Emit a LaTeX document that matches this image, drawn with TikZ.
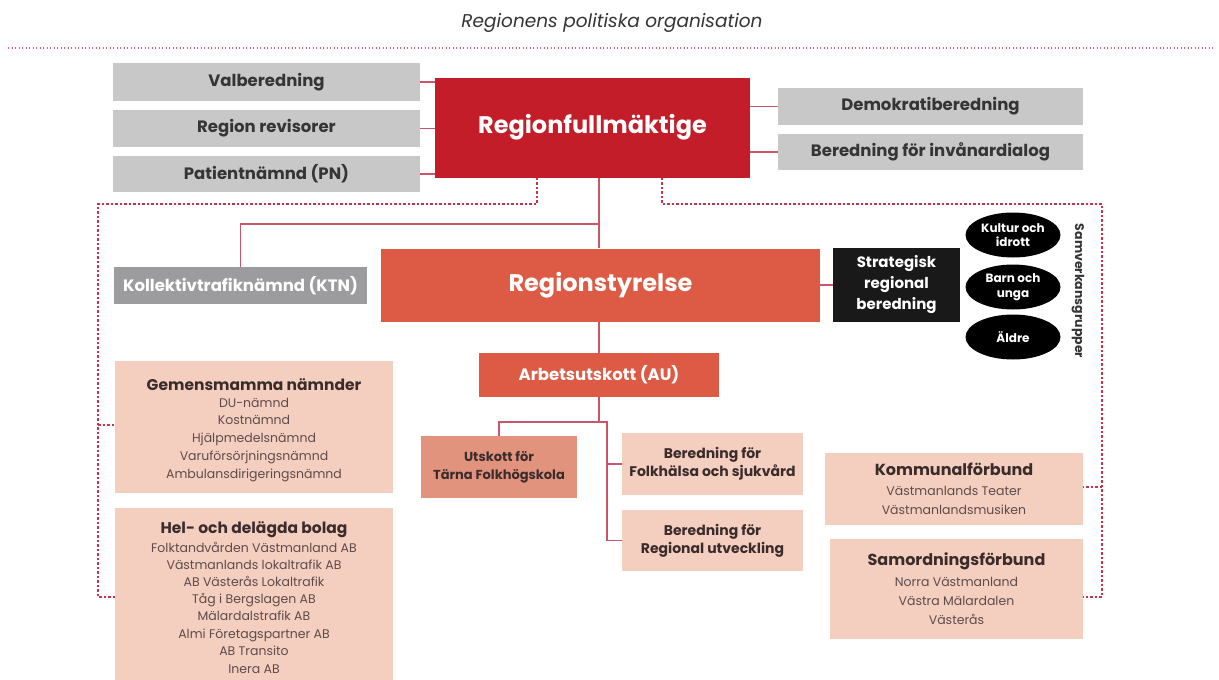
\documentclass[tikz,border=0pt]{standalone}
\usepackage{fontspec}
\setmainfont{Poppins}
\usetikzlibrary{shapes.geometric,calc}
\definecolor{rfred}{HTML}{C21D28}
\definecolor{rsred}{HTML}{DD5B45}
\definecolor{lgray}{HTML}{C8C8C9}
\definecolor{dgray}{HTML}{9C9C9E}
\definecolor{salmon}{HTML}{F4CEBF}
\definecolor{dsalmon}{HTML}{E2937D}
\definecolor{conn}{HTML}{C9566A}
\definecolor{dash}{HTML}{C8334A}
\definecolor{txtd}{HTML}{353535}
\definecolor{txtb}{HTML}{3B2C2C}
\definecolor{txtl}{HTML}{5E4C4C}
\tikzset{
  bx/.style={rectangle, inner sep=0pt, align=center, font=\bfseries},
  graybox/.style={bx, fill=lgray, text=txtd, minimum width=307pt, font=\fontsize{16.5}{18}\selectfont\bfseries},
  rightbox/.style={bx, fill=lgray, text=txtd, minimum width=305pt, font=\fontsize{16.5}{18}\selectfont\bfseries},
  salbox/.style={bx, fill=salmon, text=txtb, font=\fontsize{14}{18}\selectfont\bfseries},
  listbox/.style={rectangle, inner sep=0pt, fill=salmon},
  ltitle/.style={text=txtb, font=\fontsize{15.5}{18}\selectfont\bfseries, inner sep=0pt, text height=11pt, text depth=3.5pt},
  litem/.style={text=txtl, font=\fontsize{12.5}{14}\selectfont, inner sep=0pt, text height=9pt, text depth=3pt},
  ell/.style={ellipse, fill=black, text=white, inner sep=0pt, minimum width=95pt, minimum height=45pt, align=center, font=\fontsize{12}{14.5}\selectfont\bfseries},
  cline/.style={draw=conn, line width=1.3pt},
  dline/.style={draw=dash, line width=1.1pt, dash pattern=on 2.5pt off 2pt},
}
\begin{document}
\begin{tikzpicture}[x=1pt,y=-1pt]
\useasboundingbox[fill=white] (0,0) rectangle (1219,680);
% title
\node[font=\fontsize{18.5}{20}\selectfont\itshape, text=txtd] (title) at (612,23) {Regionens politiska organisation};
\draw[draw=dash!80, line width=2.4pt, dash pattern=on 0.9pt off 2.6pt] (8,48) -- (1215,48);

% top
\node[graybox, minimum height=38pt] (val) at (266.5,82) {Valberedning};
\node[graybox, minimum height=37pt] (rev) at (266.5,128.5) {Region revisorer};
\node[graybox, minimum height=36pt] (pn) at (266.5,174) {Patientnämnd (PN)};
\node[bx, fill=rfred, text=white, minimum width=315pt, minimum height=100pt, font=\fontsize{24}{28}\selectfont\bfseries] (rf) at (592.5,127.5) {Regionfullmäktige};
\node[rightbox, minimum height=37pt] (demo) at (930.5,106.5) {Demokratiberedning};
\node[rightbox, minimum height=36pt] (inv) at (930.5,152) {Beredning för invånardialog};

\draw[cline] (val.east) -- (val.east -| rf.west);
\draw[cline] (rev.east) -- (rev.east -| rf.west);
\draw[cline] (pn.east) -- (pn.east -| rf.west);
\draw[cline] (demo.west) -- (demo.west -| rf.east);
\draw[cline] (inv.west) -- (inv.west -| rf.east);

% middle
\node[bx, fill=dgray, text=white, minimum width=253pt, minimum height=37pt, font=\fontsize{16.5}{18}\selectfont\bfseries] (ktn) at (240.5,285.5) {Kollektivtrafiknämnd (KTN)};
\node[bx, fill=rsred, text=white, minimum width=439pt, minimum height=73pt, font=\fontsize{24}{28}\selectfont\bfseries] (rs) at (600.5,285) {Regionstyrelse};
\node[bx, fill=black!90, text=white, minimum width=127pt, minimum height=74pt, font=\fontsize{15}{21}\selectfont\bfseries] (srb) at (896.5,285) {Strategisk\\regional\\beredning};
\node[ell] (e1) at (1013,235) {Kultur och\\idrott};
\node[ell] (e2) at (1013,287) {Barn och\\unga};
\node[ell] (e3) at (1013,337) {Äldre};
\node[rotate=-90, font=\fontsize{12.5}{14}\selectfont\bfseries, text=txtd, inner sep=0pt] (sg) at (1078,291) {Samverkansgrupper};

\node[bx, fill=rsred, text=white, minimum width=240pt, minimum height=44pt, font=\fontsize{16.5}{18}\selectfont\bfseries] (au) at (599,375) {Arbetsutskott (AU)};
\node[salbox, fill=dsalmon, minimum width=156pt, minimum height=62pt, font=\fontsize{13}{18}\selectfont\bfseries] (tarna) at (499,467) {Utskott för\\Tärna Folkhögskola};
\node[salbox, minimum width=181pt, minimum height=62pt] (folk) at (712.5,464) {Beredning för\\Folkhälsa och sjukvård};
\node[salbox, minimum width=181pt, minimum height=61pt] (regut) at (712.5,540.5) {Beredning för\\Regional utveckling};

\coordinate (jk) at (599,224);
\coordinate (ja) at (599,422);
\coordinate (jb) at (607,422);
\draw[cline] (au.north |- rf.south) -- (au.north |- rs.north);
\draw[cline] (jk) -| (ktn.north);
\draw[cline] (rs.south -| au.north) -- (au.north);
\draw[cline] (au.south) -- (ja) -| (tarna.north);
\draw[cline] (ja) -- (jb) -- (jb |- regut.west) -- (regut.west);
\draw[cline] (jb |- folk.west) -- (folk.west);
\draw[cline] (rs.east) -- (srb.west);

% left list boxes
\node[listbox, minimum width=278pt, minimum height=132pt] (gem) at (254,427) {};
\node[ltitle] (gemt) at (254,387) {Gemensmamma nämnder};
\node[litem] (g1) at (254,404) {DU-nämnd};
\node[litem] (g2) at (254,421.5) {Kostnämnd};
\node[litem] (g3) at (254,439.5) {Hjälpmedelsnämnd};
\node[litem] (g4) at (254,457) {Varuförsörjningsnämnd};
\node[litem] (g5) at (254,475) {Ambulansdirigeringsnämnd};

\node[listbox, minimum width=278pt, minimum height=172pt] (hel) at (254,594) {};
\node[ltitle] (helt) at (254,530) {Hel- och delägda bolag};
\node[litem] (h1) at (254,549) {Folktandvården Västmanland AB};
\node[litem] (h2) at (254,566) {Västmanlands lokaltrafik AB};
\node[litem] (h3) at (254,583) {AB Västerås Lokaltrafik};
\node[litem] (h4) at (254,600) {Tåg i Bergslagen AB};
\node[litem] (h5) at (254,617.5) {Mälardalstrafik AB};
\node[litem] (h6) at (254,635) {Almi Företagspartner AB};
\node[litem] (h7) at (254,652.5) {AB Transito};
\node[litem] (h8) at (254,670) {Inera AB};

% right list boxes
\node[listbox, minimum width=258pt, minimum height=72pt] (kom) at (954,489) {};
\node[ltitle, font=\fontsize{16}{18}\selectfont\bfseries] (komt) at (954,472) {Kommunalförbund};
\node[litem] (k1) at (954,492) {Västmanlands Teater};
\node[litem] (k2) at (954,511) {Västmanlandsmusiken};

\node[listbox, minimum width=253pt, minimum height=100pt] (sam) at (956.5,589) {};
\node[ltitle, font=\fontsize{16}{18}\selectfont\bfseries] (samt) at (956.5,562) {Samordningsförbund};
\node[litem] (s1) at (956.5,583) {Norra Västmanland};
\node[litem] (s2) at (956.5,602) {Västra Mälardalen};
\node[litem] (s3) at (956.5,621) {Västerås};

% dashed connectors
\coordinate (dl) at (537,204);
\coordinate (lb) at (98,204);
\coordinate (dr) at (662,204);
\coordinate (rb) at (1102,204);
\draw[dline] (rf.south -| dl) -- (dl) -- (lb) -- (lb |- 0,597) -- (hel.west |- 0,597);
\draw[dline] (lb |- 0,425) -- (gem.west |- 0,425);
\draw[dline] (rf.south -| dr) -- (dr) -- (rb) -- (rb |- 0,597) -- (sam.east |- 0,597);
\draw[dline] (rb |- 0,487) -- (kom.east |- 0,487);
\end{tikzpicture}
\end{document}
